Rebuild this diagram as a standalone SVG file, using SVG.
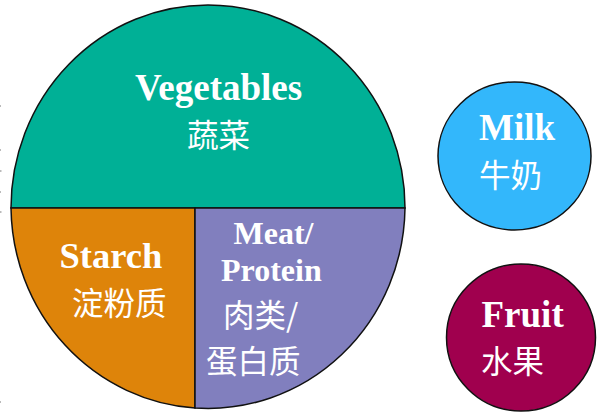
<svg xmlns="http://www.w3.org/2000/svg" width="603" height="413" viewBox="0 0 603 413">
<style>
.e{font-family:"Liberation Serif",serif;font-weight:700;fill:#fff}
.c{font-family:"Noto Sans CJK SC","Noto Sans CJK TC",sans-serif;fill:#fff;font-size:31.500px}
.s{stroke:#111;stroke-width:1.5}
</style>
<rect width="603" height="413" fill="#fff"/>
<path d="M0 106h1M0 150h1M0 171h1.500M0 192h1M0 212h1.500M0 402h1" stroke="#777" fill="none"/>
<g id="vegetables">
<path class="s" fill="#00b096" d="M11 208A197 203 0 0 1 405 208Z"/>
<text class="e" x="135" y="100" font-size="37">Vegetables</text>
<text class="c" x="187" y="147">蔬菜</text>
</g>
<g id="starch">
<path class="s" fill="#de840a" d="M11 208H195V408A197 203 0 0 1 11 208Z"/>
<text class="e" x="59.500" y="268" font-size="36.500">Starch</text>
<text class="c" x="72" y="315">淀粉质</text>
</g>
<g id="meat">
<path class="s" fill="#817fbe" d="M195 208H405A197 203 0 0 1 195 408Z"/>
<text class="e" x="233.500" y="244" font-size="32">Meat/</text>
<text class="e" x="221" y="280.500" font-size="32">Protein</text>
<text class="c" x="223" y="327">肉类/</text>
<text class="c" x="206" y="373">蛋白质</text>
</g>
<g id="milk">
<ellipse class="s" cx="514.500" cy="156" rx="76.500" ry="74" fill="#33b7fb"/>
<text class="e" x="479" y="140" font-size="37">Milk</text>
<text class="c" x="479" y="187">牛奶</text>
</g>
<g id="fruit">
<ellipse class="s" cx="521" cy="337.500" rx="74.500" ry="73.500" fill="#a0004e"/>
<text class="e" x="481.500" y="327" font-size="37">Fruit</text>
<text class="c" x="481" y="373">水果</text>
</g>
</svg>
